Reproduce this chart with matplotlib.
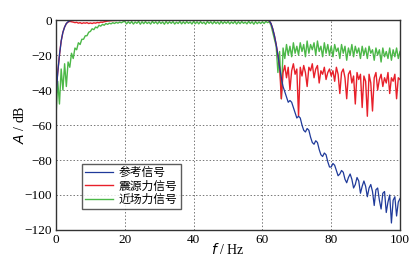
import numpy as np
import matplotlib
matplotlib.use("Agg")
import matplotlib.pyplot as plt

# frequency samples (Hz), one value every 0.5 Hz
freq = np.arange(0, 100.5, 0.5)

# reference signal (dB)
ref_db = [
    -45, -30, -20, -12, -7, -4, -2, -1, -0.5, -0.2, 0, 0, 0, 0, 0, 0, 0, 0, 0, 0,
    0, 0, 0, 0, 0, 0, 0, 0, 0, 0, 0, 0, 0, 0, 0, 0, 0, 0, 0, 0,
    0, 0, 0, 0, 0, 0, 0, 0, 0, 0, 0, 0, 0, 0, 0, 0, 0, 0, 0, 0,
    0, 0, 0, 0, 0, 0, 0, 0, 0, 0, 0, 0, 0, 0, 0, 0, 0, 0, 0, 0,
    0, 0, 0, 0, 0, 0, 0, 0, 0, 0, 0, 0, 0, 0, 0, 0, 0, 0, 0, 0,
    0, 0, 0, 0, 0, 0, 0, 0, 0, 0, 0, 0, 0, 0, 0, 0, 0, 0, 0, 0,
    0, 0, 0, 0, -0.5, -2, -5, -9, -14, -20, -27, -33, -38, -41, -44, -47, -46, -47, -50, -53,
    -56, -55, -56, -60, -63, -64, -62, -63, -67, -70, -71, -69, -70, -74, -77, -78, -76, -77, -81, -84,
    -84, -82, -83, -86, -89, -88, -86, -87, -91, -93, -90, -88, -91, -96, -94, -90, -92, -99, -95, -92,
    -95, -101, -96, -94, -98, -106, -97, -96, -103, -108, -99, -98, -110, -104, -100, -116, -103, -101, -112, -104, -102,
]

# source force signal (dB)
src_db = [
    -40, -30, -20, -12, -7, -4, -2, -1.2, -0.8, -1, -1.2, -1.5, -1.3, -1.8, -1.5, -2, -1.6, -1.8, -1.5, -2,
    -1.7, -2, -1.6, -1.8, -1.4, -1.6, -1.2, -1.3, -1, -0.8, -0.6, -0.5, -0.4, -0.3, -0.3, -0.2, -0.2, -0.2, -0.1, -0.1,
    -0.1, -0.1, -0.1, -0.1, -0.1, -0.1, -0.1, -0.1, -0.1, -0.1, -0.1, -0.1, -0.1, -0.1, -0.1, -0.1, -0.1, -0.1, -0.1, -0.1,
    -0.1, -0.1, -0.1, -0.1, -0.1, -0.1, -0.1, -0.1, -0.1, -0.1, -0.1, -0.1, -0.1, -0.1, -0.1, -0.1, -0.1, -0.1, -0.1, -0.1,
    -0.1, -0.1, -0.1, -0.1, -0.1, -0.1, -0.1, -0.1, -0.1, -0.1, -0.1, -0.1, -0.1, -0.1, -0.1, -0.1, -0.1, -0.1, -0.1, -0.1,
    -0.1, -0.1, -0.1, -0.1, -0.1, -0.1, -0.1, -0.1, -0.1, -0.1, -0.1, -0.1, -0.1, -0.1, -0.1, -0.1, -0.1, -0.1, -0.1, -0.1,
    0, 0, 0, 0, -0.5, -2, -5, -9, -14, -20, -27, -45, -30, -26, -33, -27, -40, -29, -25, -31,
    -28, -55, -27, -32, -26, -30, -38, -27, -29, -25, -33, -28, -26, -36, -29, -31, -27, -34, -30, -28,
    -32, -29, -35, -27, -31, -42, -30, -28, -33, -45, -31, -29, -36, -32, -48, -30, -34, -31, -50, -32,
    -35, -55, -31, -36, -52, -33, -30, -40, -34, -31, -38, -33, -36, -30, -42, -33, -35, -31, -45, -33, -34,
]

# near field force signal (dB)
near_db = [
    -55, -35, -48, -28, -40, -25, -38, -24, -27, -19, -22, -16, -17, -13, -14, -11, -11, -9, -9, -7,
    -6.5, -5, -5.5, -4, -4.5, -3, -3.5, -2.5, -3, -2, -2.5, -1.8, -2.2, -1.5, -2, -1.3, -1.8, -1.2, -1.6, -1,
    -0.8, -2.2, -1, -2, -0.9, -2.3, -1.1, -1.9, -0.8, -2.4, -1, -2.1, -0.9, -2, -1.2, -2.3, -0.8, -1.9, -1, -2.2,
    -0.9, -2, -1.1, -2.4, -0.8, -2.1, -1, -1.9, -0.9, -2.3, -1.2, -2, -0.8, -2.2, -1, -2.1, -0.9, -1.9, -1.1, -2.3,
    -0.8, -2.1, -1, -2.2, -0.9, -2, -1.2, -2.4, -0.8, -1.9, -1, -2.2, -0.9, -2, -1.1, -2.3, -0.8, -2.1, -1, -1.9,
    -0.9, -2.2, -1.1, -2, -0.8, -2.3, -1, -2.1, -0.9, -1.9, -1.2, -2.2, -0.8, -2, -1, -2.4, -0.9, -2.1, -1.1, -2,
    -1, -2, -0.8, -1.5, -1, -3, -7, -11, -15, -30, -18, -45, -16, -22, -14, -20, -15, -21, -13, -19,
    -15, -20, -13, -18, -14, -21, -12, -19, -14, -17, -13, -20, -12, -18, -15, -21, -13, -19, -14, -20,
    -15, -21, -14, -18, -16, -22, -14, -19, -15, -23, -16, -20, -14, -21, -15, -19, -16, -22, -15, -20,
    -16, -22, -15, -19, -17, -23, -16, -20, -17, -24, -16, -21, -18, -22, -16, -23, -17, -21, -16, -22, -18,
]

labels = ["参考信号", "震源力信号", "近场力信号"]
xticks = [0, 20, 40, 60, 80, 100]
yticks = [0, -20, -40, -60, -80, -100, -120]

plt.rcParams["font.family"] = ["Liberation Serif", "Noto Sans CJK SC"]

fig = plt.figure(figsize=(4.19, 2.64), dpi=100)
ax = fig.add_axes([0.1337, 0.1288, 0.821, 0.7954])

l3, = ax.plot(freq, near_db, color="#4cb848", lw=1.0, label=labels[2])
l2, = ax.plot(freq, src_db, color="#e8202a", lw=1.0, label=labels[1])
l1, = ax.plot(freq, ref_db, color="#1f3a9a", lw=0.9, label=labels[0])

ax.set_xlim(0, 100)
ax.set_ylim(-120, 0)
ax.set_xticks(xticks)
ax.set_yticks(yticks)
ax.tick_params(labelsize=9.5, direction="in", length=0, pad=3)
ax.grid(True, linestyle=(0, (1.5, 2)), color="#777777", lw=0.7)
for s in ax.spines.values():
    s.set_linewidth(1.0)
    s.set_color("#333333")

ax.set_xlabel("$f$ / Hz", fontsize=10, labelpad=-3)
ax.set_ylabel("$A$ / dB", fontsize=10)
ax.yaxis.set_label_coords(-0.085, 0.5)

leg = ax.legend(handles=[l1, l2, l3], loc="lower left", bbox_to_anchor=(0.075, 0.1),
                borderaxespad=0, fontsize=8.5, frameon=True, fancybox=False,
                handlelength=2.4, handletextpad=0.5, borderpad=0.25, labelspacing=0.12)
leg.get_frame().set_edgecolor("#333333")
leg.get_frame().set_linewidth(1.0)

fig.savefig("out.png", dpi=100)
